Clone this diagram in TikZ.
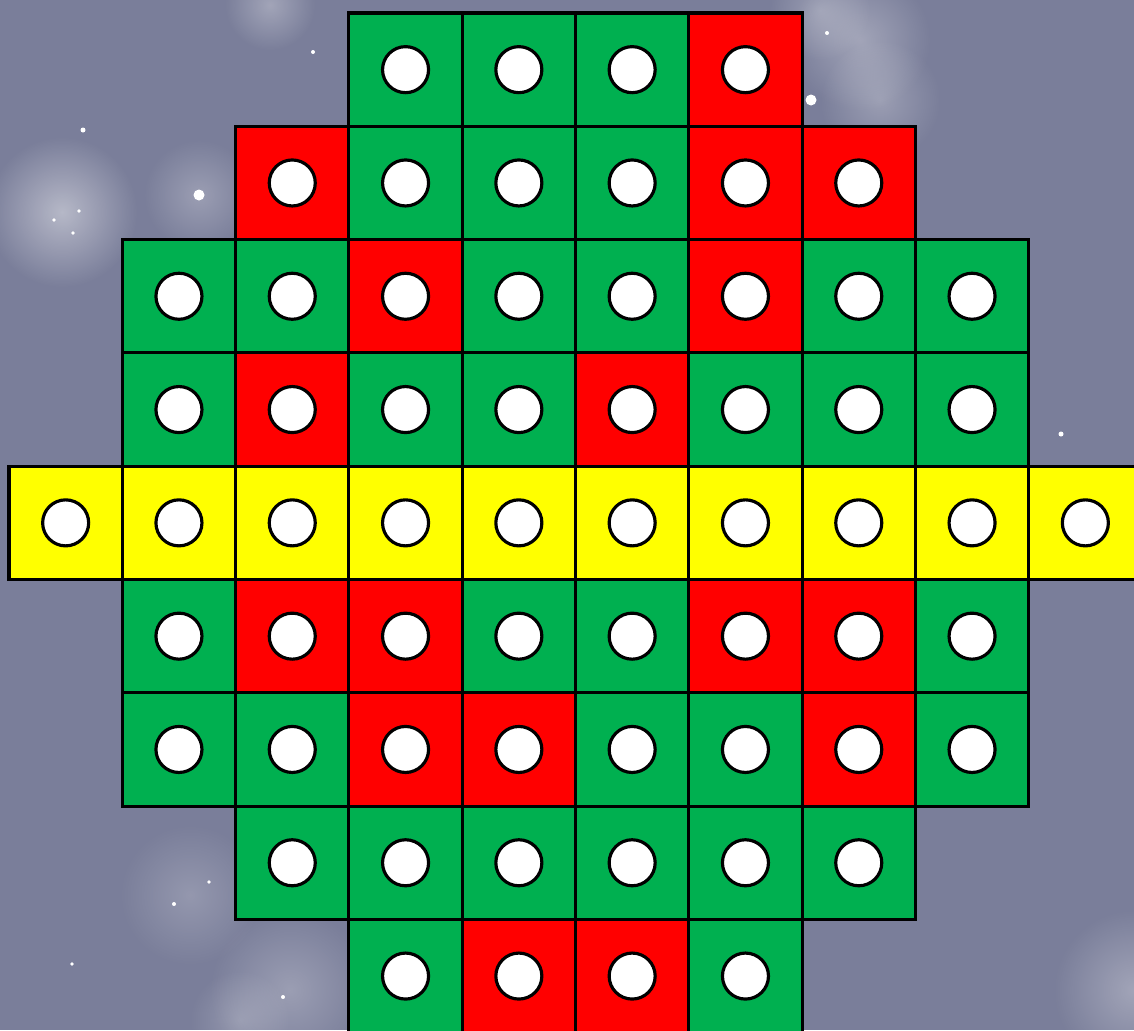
\documentclass[tikz,border=0pt]{standalone}
\usepackage{tikz}
\usetikzlibrary{positioning, fadings}
\definecolor{fond}{RGB}{122,126,154}
\definecolor{vert}{RGB}{0,176,80}
\definecolor{rouge}{RGB}{255,0,0}
\definecolor{jaune}{RGB}{255,255,0}
\tikzfading[name=lueur, inner color=transparent!0, outer color=transparent!100]

\begin{document}
\begin{tikzpicture}[x=0.01cm, y=-0.01cm,
		case/.style={draw=black, line width=0.9pt, minimum size=1.133cm, inner sep=0pt},
		trou/.style={circle, draw=black, fill=white, line width=0.9pt, minimum size=0.46cm, inner sep=0pt}]
	% fond etoile
	\fill[fond] (0,0) rectangle (1134,1030);
	\useasboundingbox (0,0) rectangle (1134,1030);
	\foreach \x/\y/\r/\o in {62/212/75/0.45, 199/195/55/0.25, 190/895/70/0.2, 1134/990/80/0.3,
			270/5/45/0.3, 860/40/70/0.3, 880/100/60/0.25, 820/10/50/0.25, 290/990/80/0.25, 240/1020/50/0.2}
		\fill[white, opacity=\o, path fading=lueur] (\x,\y) circle (\r);
	\foreach \x/\y/\r in {83/130/2.5, 199/195/5.5, 313/52/2, 827/33/2, 811/100/5.5, 1061/434/2.5,
			54/220/1.8, 79/211/1.8, 73/233/1.8, 174/904/2, 209/882/1.8, 72/964/1.8, 283/997/2}
		\fill[white] (\x,\y) circle (\r);
	% plateau
	\foreach \ligne/\debut/\cases in {
			0/3/{vert,vert,vert,rouge},
			1/2/{rouge,vert,vert,vert,rouge,rouge},
			2/1/{vert,vert,rouge,vert,vert,rouge,vert,vert},
			3/1/{vert,rouge,vert,vert,rouge,vert,vert,vert},
			4/0/{jaune,jaune,jaune,jaune,jaune,jaune,jaune,jaune,jaune,jaune},
			5/1/{vert,rouge,rouge,vert,vert,rouge,rouge,vert},
			6/1/{vert,vert,rouge,rouge,vert,vert,rouge,vert},
			7/2/{vert,vert,vert,vert,vert,vert},
			8/3/{vert,rouge,rouge,vert}}
		\foreach \coul [count=\col from \debut] in \cases {
			\node[case, fill=\coul] (c-\ligne-\col) at ({9+113.3*(\col+0.5)}, {13+113.3*(\ligne+0.5)}) {};
			\node[trou] (t-\ligne-\col) at (c-\ligne-\col) {};
		}
\end{tikzpicture}
\end{document}
